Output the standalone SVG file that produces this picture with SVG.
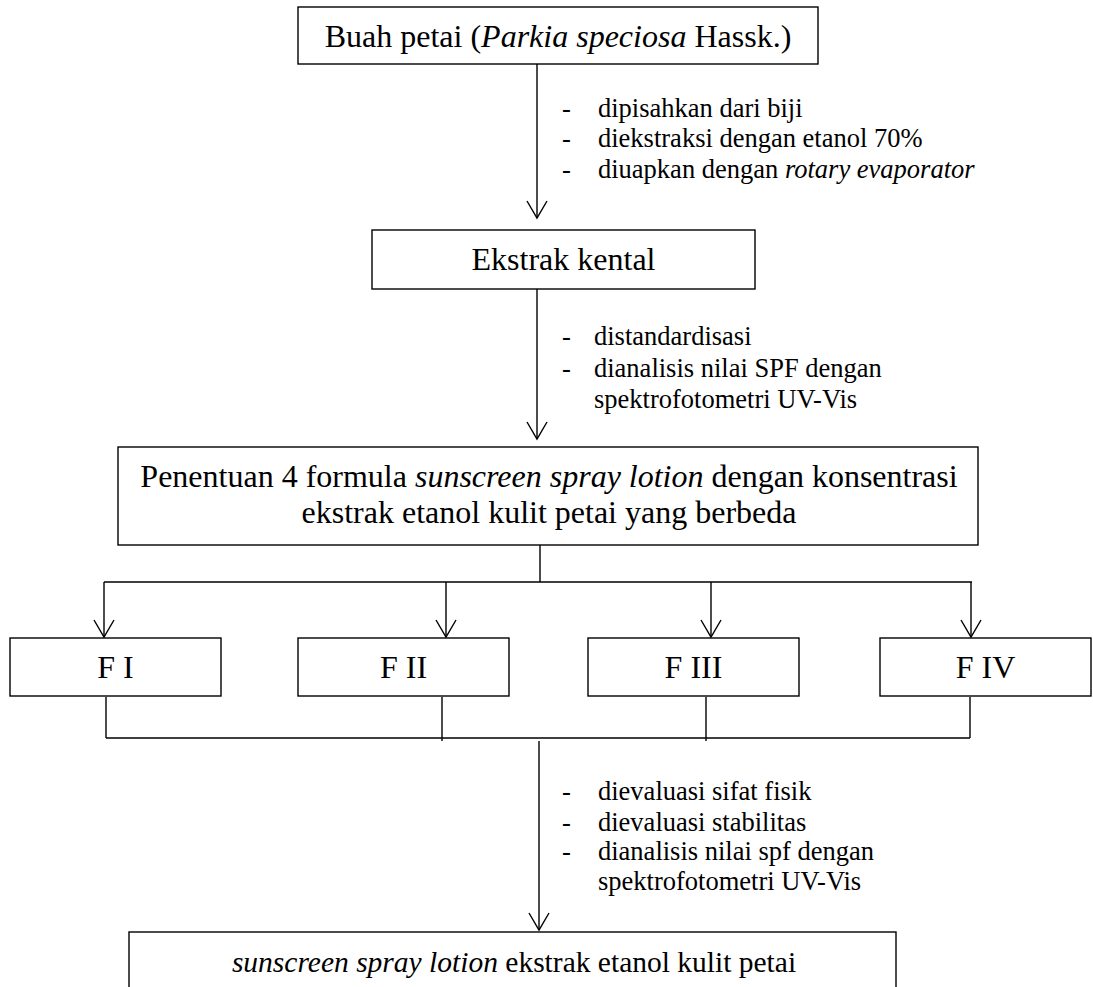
<svg xmlns="http://www.w3.org/2000/svg" width="1093" height="987" viewBox="0 0 1093 987">
<defs>
<style>
.box{fill:#fff;stroke:#000;stroke-width:1.4}
.ln{fill:none;stroke:#000;stroke-width:1.4}
.t{font-family:"Liberation Serif","Times New Roman",serif;font-size:32px;fill:#000;text-anchor:middle}
.l{font-family:"Liberation Serif","Times New Roman",serif;font-size:26.5px;fill:#000}
.i{font-style:italic}
</style>
</defs>
<rect width="1093" height="987" fill="#fff"/>
<g id="connectors">
<line class="ln" x1="537" y1="64" x2="537" y2="218"/>
<line class="ln" x1="537" y1="289" x2="537" y2="439"/>
<line class="ln" x1="540" y1="545" x2="540" y2="582"/>
<line class="ln" x1="104" y1="582" x2="972" y2="582"/>
<line class="ln" x1="104" y1="582" x2="104" y2="637"/>
<line class="ln" x1="446" y1="582" x2="446" y2="637"/>
<line class="ln" x1="711" y1="582" x2="711" y2="637"/>
<line class="ln" x1="971" y1="582" x2="971" y2="637"/>
<line class="ln" x1="106" y1="697" x2="106" y2="738"/>
<line class="ln" x1="442" y1="697" x2="442" y2="741"/>
<line class="ln" x1="706" y1="697" x2="706" y2="741"/>
<line class="ln" x1="970" y1="697" x2="970" y2="738"/>
<line class="ln" x1="106" y1="738" x2="970" y2="738"/>
<line class="ln" x1="539" y1="741" x2="539" y2="930"/>
<path class="ln" d="M527,201 L537,218 L547,201"/>
<path class="ln" d="M527,422 L537,439 L547,422"/>
<path class="ln" d="M94,620 L104,637 L114,620"/>
<path class="ln" d="M436,620 L446,637 L456,620"/>
<path class="ln" d="M701,620 L711,637 L721,620"/>
<path class="ln" d="M961,620 L971,637 L981,620"/>
<path class="ln" d="M529,913 L539,930 L549,913"/>
</g>
<g id="n-buah">
<rect class="box" x="298" y="7" width="520" height="57"/>
<text class="t" x="558" y="47">Buah petai (<tspan class="i">Parkia speciosa</tspan> Hassk.)</text>
</g>
<g id="lbl-1">
<text class="l" x="562" y="117">-</text><text class="l" x="598" y="117">dipisahkan dari biji</text>
<text class="l" x="562" y="147">-</text><text class="l" x="598" y="147">diekstraksi dengan etanol 70%</text>
<text class="l" x="562" y="178">-</text><text class="l" x="598" y="178">diuapkan dengan <tspan class="i">rotary evaporator</tspan></text>
</g>
<g id="n-ekstrak">
<rect class="box" x="372" y="230" width="383" height="59"/>
<text class="t" x="563.5" y="270">Ekstrak kental</text>
</g>
<g id="lbl-2">
<text class="l" x="562" y="345">-</text><text class="l" x="594" y="345">distandardisasi</text>
<text class="l" x="562" y="377">-</text><text class="l" x="594" y="377">dianalisis nilai SPF dengan</text>
<text class="l" x="594" y="408">spektrofotometri UV-Vis</text>
</g>
<g id="n-penentuan">
<rect class="box" x="118" y="447" width="860" height="98"/>
<text class="t" x="549" y="487">Penentuan 4 formula <tspan class="i">sunscreen spray lotion</tspan> dengan konsentrasi</text>
<text class="t" x="549" y="523">ekstrak etanol kulit petai yang berbeda</text>
</g>
<g id="n-f1">
<rect class="box" x="10" y="638" width="211" height="58"/>
<text class="t" x="115.5" y="678">F I</text>
</g>
<g id="n-f2">
<rect class="box" x="298" y="638" width="211" height="58"/>
<text class="t" x="403.5" y="678">F II</text>
</g>
<g id="n-f3">
<rect class="box" x="588" y="638" width="211" height="58"/>
<text class="t" x="693.5" y="678">F III</text>
</g>
<g id="n-f4">
<rect class="box" x="880" y="638" width="211" height="58"/>
<text class="t" x="985.5" y="678">F IV</text>
</g>
<g id="lbl-3">
<text class="l" x="562" y="800">-</text><text class="l" x="598" y="800">dievaluasi sifat fisik</text>
<text class="l" x="562" y="831">-</text><text class="l" x="598" y="831">dievaluasi stabilitas</text>
<text class="l" x="562" y="860">-</text><text class="l" x="598" y="860">dianalisis nilai spf dengan</text>
<text class="l" x="598" y="890">spektrofotometri UV-Vis</text>
</g>
<g id="n-hasil">
<rect class="box" x="129" y="932" width="767" height="80"/>
<text class="t" x="514" y="972" style="font-size:29.5px"><tspan class="i">sunscreen spray lotion</tspan> ekstrak etanol kulit petai</text>
</g>
</svg>
